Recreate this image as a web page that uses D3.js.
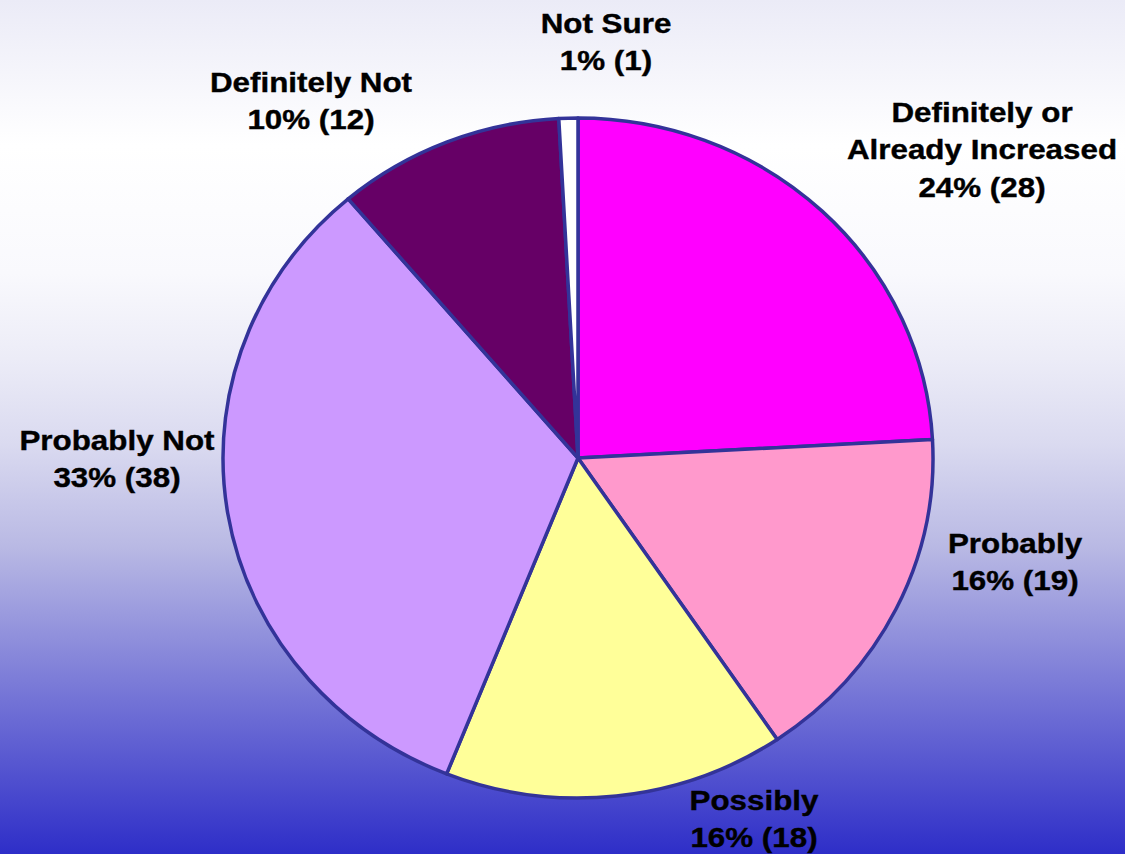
<!DOCTYPE html>
<html>
<head>
<meta charset="utf-8">
<script src="https://cdn.jsdelivr.net/npm/d3@7"></script>
<style>
html,body{margin:0;padding:0;overflow:hidden;}
svg{display:block;}
</style>
</head>
<body>
<svg id="chart" width="1125" height="854"></svg>
<script>
const categories = ["Definitely or\nAlready Increased", "Probably", "Possibly", "Probably Not", "Definitely Not", "Not Sure"];
const values = [28, 19, 18, 38, 12, 1];
const colors = ["#FF00FF", "#FF99CC", "#FFFF99", "#CC99FF", "#660066", "#FFFFFF"];
// label anchor (center x, baseline of first line)
const labelLayout = [
  {x: 982, y: 122},
  {x: 1015, y: 553},
  {x: 754, y: 810},
  {x: 117, y: 450},
  {x: 311, y: 92},
  {x: 606, y: 33}
];

const W = 1125, H = 854;
const cx = 578, cy = 458, r = 340, sx = 355 / 340;
const svg = d3.select("#chart");

const defs = svg.append("defs");
const grad = defs.append("linearGradient").attr("id", "bg")
  .attr("x1", 0).attr("y1", 0).attr("x2", 0).attr("y2", 1);
[[0, "#ebebf7"], [0.17, "#ffffff"], [0.32, "#f9f9fd"], [0.42, "#ececf7"], [0.52, "#dadaf0"],
 [0.64, "#b9b9e4"], [0.82, "#7373d6"], [1, "#2e2ec8"]]
  .forEach(([o, c]) => grad.append("stop").attr("offset", o).attr("stop-color", c));
svg.append("rect").attr("width", W).attr("height", H).attr("fill", "url(#bg)");

const total = d3.sum(values);
const pie = d3.pie().sort(null).value(d => d)(values);
const arc = d3.arc().innerRadius(0).outerRadius(r);

const g = svg.append("g").attr("transform", `translate(${cx},${cy}) scale(${sx},1)`);
g.selectAll("path").data(pie).join("path")
  .attr("d", arc)
  .attr("fill", (d, i) => colors[i])
  .attr("stroke", "#333399")
  .attr("stroke-width", 3.5)
  .attr("stroke-linejoin", "round")
  .attr("vector-effect", "non-scaling-stroke");

const labels = svg.append("g");
categories.forEach((c, i) => {
  const lines = c.split("\n").concat([`${Math.round(values[i] / total * 100)}% (${values[i]})`]);
  const t = labels.append("text")
    .attr("transform", `translate(${labelLayout[i].x},${labelLayout[i].y}) scale(1.12,1)`)
    .attr("text-anchor", "middle")
    .attr("font-family", "'Liberation Sans', Arial, sans-serif")
    .attr("font-weight", "bold")
    .attr("font-size", 28)
    .attr("fill", "#000")
    .attr("stroke", "#000")
    .attr("stroke-width", 0.4);
  lines.forEach((l, j) => t.append("tspan").attr("x", 0).attr("y", j * 37.5).text(l));
});
</script>
</body>
</html>
